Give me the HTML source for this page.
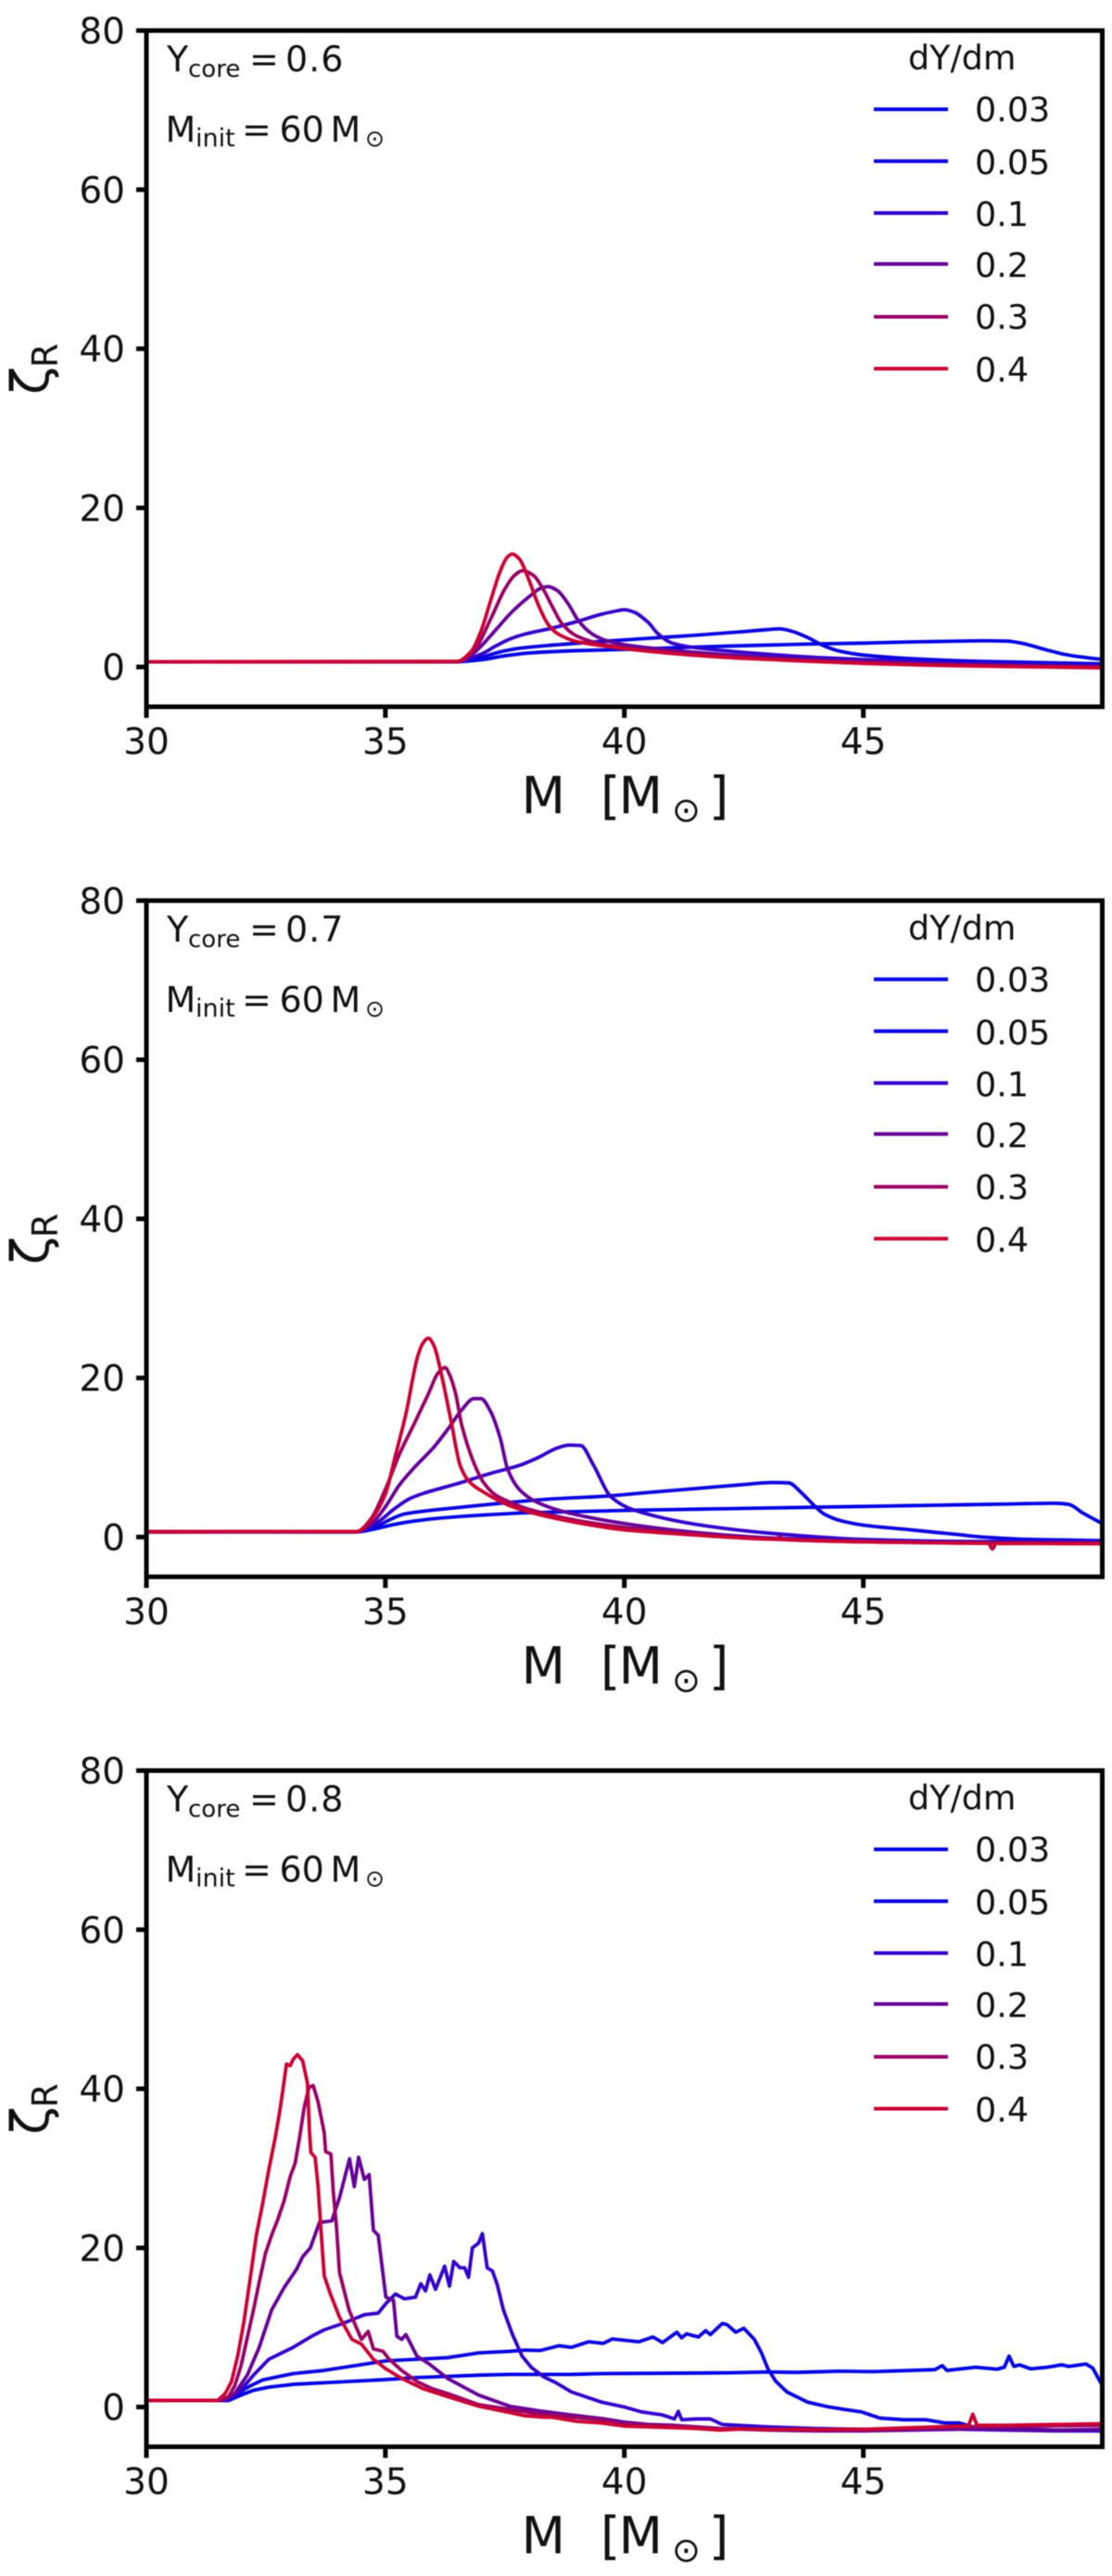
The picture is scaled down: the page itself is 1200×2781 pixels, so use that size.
<!DOCTYPE html>
<html lang="en">
<head>
<meta charset="utf-8">
<title>Zeta R versus mass for three core helium fractions</title>
<style>
html,body{margin:0;padding:0;background:#fff;width:1200px;height:2781px;overflow:hidden}
svg{display:block;filter:blur(0.4px)}
text{font-family:"DejaVu Sans","Liberation Sans",sans-serif;fill:#111}
.t36{font-size:36.5px}.t38{font-size:38px}.t26{font-size:26px}.t27{font-size:27px}.t25{font-size:25px}.t55{font-size:55px}
</style>
</head>
<body>
<svg id="figure" width="1200" height="2781" viewBox="0 0 1200 2781" xmlns="http://www.w3.org/2000/svg">

<g id="panel-0" transform="translate(0,0)">
  <text transform="translate(52,426) rotate(-90)" font-size="56">ζ</text>
  <text transform="translate(62,397) rotate(-90)" font-size="38">R</text>
  <g>
    <text class="t55" x="562.6" y="878">M</text><text class="t55" x="648" y="878">[</text><text class="t55" x="667.6" y="878">M</text><text font-size="37" x="725" y="887">⊙</text><text class="t55" x="765" y="878">]</text>
  </g>
  <g>
    <text class="t38" x="180" y="77">Y</text><text class="t26" x="203" y="83">core</text><text class="t38" x="269" y="77">=</text><text class="t38" x="308" y="77" letter-spacing="1">0.6</text>
  </g>
  <g>
    <text class="t38" x="178.5" y="153">M</text><text class="t27" x="211" y="158">init</text><text class="t38" x="261" y="153">=</text><text class="t38" x="301.5" y="153">60</text><text class="t38" x="356.5" y="153">M</text><text class="t25" x="394" y="158">⊙</text>
  </g>
  <g>
    <text class="t36" x="980" y="75">dY/dm</text>
    <g><line x1="943" x2="1023" y1="118" y2="118" stroke="#0000e6" stroke-width="4"/><text class="t36" x="1052" y="131">0.03</text></g>
    <g><line x1="943" x2="1023" y1="174" y2="174" stroke="#0a00e1" stroke-width="4"/><text class="t36" x="1052" y="188">0.05</text></g>
    <g><line x1="943" x2="1023" y1="230" y2="230" stroke="#3300cc" stroke-width="4"/><text class="t36" x="1052" y="244">0.1</text></g>
    <g><line x1="943" x2="1023" y1="285" y2="285" stroke="#660099" stroke-width="4"/><text class="t36" x="1052" y="299">0.2</text></g>
    <g><line x1="943" x2="1023" y1="342" y2="342" stroke="#990066" stroke-width="4"/><text class="t36" x="1052" y="355">0.3</text></g>
    <g><line x1="943" x2="1023" y1="398" y2="398" stroke="#cc0033" stroke-width="4"/><text class="t36" x="1052" y="412">0.4</text></g>
  </g>
</g>

<g id="panel-1" transform="translate(0,939.3)">
  <text transform="translate(52,426) rotate(-90)" font-size="56">ζ</text>
  <text transform="translate(62,397) rotate(-90)" font-size="38">R</text>
  <g>
    <text class="t55" x="562.6" y="878">M</text><text class="t55" x="648" y="878">[</text><text class="t55" x="667.6" y="878">M</text><text font-size="37" x="725" y="887">⊙</text><text class="t55" x="765" y="878">]</text>
  </g>
  <g>
    <text class="t38" x="180" y="77">Y</text><text class="t26" x="203" y="83">core</text><text class="t38" x="269" y="77">=</text><text class="t38" x="308" y="77" letter-spacing="1">0.7</text>
  </g>
  <g>
    <text class="t38" x="178.5" y="153">M</text><text class="t27" x="211" y="158">init</text><text class="t38" x="261" y="153">=</text><text class="t38" x="301.5" y="153">60</text><text class="t38" x="356.5" y="153">M</text><text class="t25" x="394" y="158">⊙</text>
  </g>
  <g>
    <text class="t36" x="980" y="75">dY/dm</text>
    <g><line x1="943" x2="1023" y1="118" y2="118" stroke="#0000e6" stroke-width="4"/><text class="t36" x="1052" y="131">0.03</text></g>
    <g><line x1="943" x2="1023" y1="174" y2="174" stroke="#0a00e1" stroke-width="4"/><text class="t36" x="1052" y="188">0.05</text></g>
    <g><line x1="943" x2="1023" y1="230" y2="230" stroke="#3300cc" stroke-width="4"/><text class="t36" x="1052" y="244">0.1</text></g>
    <g><line x1="943" x2="1023" y1="285" y2="285" stroke="#660099" stroke-width="4"/><text class="t36" x="1052" y="299">0.2</text></g>
    <g><line x1="943" x2="1023" y1="342" y2="342" stroke="#990066" stroke-width="4"/><text class="t36" x="1052" y="355">0.3</text></g>
    <g><line x1="943" x2="1023" y1="398" y2="398" stroke="#cc0033" stroke-width="4"/><text class="t36" x="1052" y="412">0.4</text></g>
  </g>
</g>

<g id="panel-2" transform="translate(0,1878.5)">
  <text transform="translate(52,426) rotate(-90)" font-size="56">ζ</text>
  <text transform="translate(62,397) rotate(-90)" font-size="38">R</text>
  <g>
    <text class="t55" x="562.6" y="878">M</text><text class="t55" x="648" y="878">[</text><text class="t55" x="667.6" y="878">M</text><text font-size="37" x="725" y="887">⊙</text><text class="t55" x="765" y="878">]</text>
  </g>
  <g>
    <text class="t38" x="180" y="77">Y</text><text class="t26" x="203" y="83">core</text><text class="t38" x="269" y="77">=</text><text class="t38" x="308" y="77" letter-spacing="1">0.8</text>
  </g>
  <g>
    <text class="t38" x="178.5" y="153">M</text><text class="t27" x="211" y="158">init</text><text class="t38" x="261" y="153">=</text><text class="t38" x="301.5" y="153">60</text><text class="t38" x="356.5" y="153">M</text><text class="t25" x="394" y="158">⊙</text>
  </g>
  <g>
    <text class="t36" x="980" y="75">dY/dm</text>
    <g><line x1="943" x2="1023" y1="118" y2="118" stroke="#0000e6" stroke-width="4"/><text class="t36" x="1052" y="131">0.03</text></g>
    <g><line x1="943" x2="1023" y1="174" y2="174" stroke="#0a00e1" stroke-width="4"/><text class="t36" x="1052" y="188">0.05</text></g>
    <g><line x1="943" x2="1023" y1="230" y2="230" stroke="#3300cc" stroke-width="4"/><text class="t36" x="1052" y="244">0.1</text></g>
    <g><line x1="943" x2="1023" y1="285" y2="285" stroke="#660099" stroke-width="4"/><text class="t36" x="1052" y="299">0.2</text></g>
    <g><line x1="943" x2="1023" y1="342" y2="342" stroke="#990066" stroke-width="4"/><text class="t36" x="1052" y="355">0.3</text></g>
    <g><line x1="943" x2="1023" y1="398" y2="398" stroke="#cc0033" stroke-width="4"/><text class="t36" x="1052" y="412">0.4</text></g>
  </g>
</g>
</svg>

<script>
const xTickValues = [30, 35, 40, 45];
const yTickValues = [0, 20, 40, 60, 80];
const seriesLabels = ['0.03', '0.05', '0.1', '0.2', '0.3', '0.4'];
const panelNoisy = [false, false, true];

/* Panel Ycore = 0.6 : [M, zeta] */
const a_003 = [[30,.66],[36.5,.66],[37,.9],[37.5,1.4],[38,1.75],[39,2.05],[40,2.2],[41,2.4],[42,2.6],[43,2.75],[44,2.9],[45,3.0],[46,3.15],[47,3.25],[47.5,3.3],[48,3.25],[48.3,3.0],[48.8,2.2],[49.2,1.6],[49.5,1.3],[50,.95]];
const a_005 = [[30,.66],[36.5,.66],[37,1.2],[37.4,1.9],[37.8,2.35],[38.5,2.75],[39.5,3.2],[40.5,3.6],[41.5,4.0],[42.5,4.45],[43,4.7],[43.25,4.8],[43.5,4.5],[43.8,3.8],[44.2,2.6],[44.5,2.0],[45,1.5],[46,1.05],[47.5,.7],[50,.4]];
const a_01 = [[30,.66],[36.5,.66],[37,1.6],[37.3,2.6],[37.6,3.5],[37.9,4.1],[38.5,4.9],[39,5.7],[39.5,6.6],[39.8,7.0],[40,7.2],[40.2,6.9],[40.5,5.6],[40.7,4.2],[41,3],[41.4,2.5],[42,2.1],[43,1.6],[44,1.2],[45.5,.8],[47,.5],[48.5,.3],[50,.15]];
const a_02 = [[30,.66],[36.5,.66],[36.8,1.5],[37,2.6],[37.3,4.6],[37.66,7],[38.04,9],[38.25,9.9],[38.4,10.1],[38.6,9.6],[38.84,7.8],[39.04,5.8],[39.34,4.1],[39.63,3.3],[40,2.8],[41,2.1],[42,1.6],[43,1.2],[45,.7],[47,.3],[50,.02]];
const a_03 = [[30,.66],[36.5,.68],[36.9,2.5],[37.2,6],[37.5,9.8],[37.7,11.5],[37.87,12.1],[38.1,11.5],[38.3,9.8],[38.5,7.5],[38.7,5.4],[39,3.9],[39.5,2.9],[40,2.4],[41,1.8],[42,1.35],[43,1.0],[45,.5],[47,.2],[50,-.05]];
const a_04 = [[30,.66],[36.5,.7],[36.8,2],[37,4.5],[37.2,8.3],[37.4,12],[37.55,13.8],[37.65,14.2],[37.8,13.6],[38,11],[38.2,7.8],[38.4,5.4],[38.6,4.2],[39,3.2],[39.5,2.7],[40,2.3],[41,1.7],[42,1.25],[43,.95],[45,.45],[47,.15],[50,-.1]];

/* Panel Ycore = 0.7 : [M, zeta] */
const b_003 = [[30,.66],[34.4,.66],[34.8,1.05],[35.2,1.6],[35.6,2.0],[36,2.3],[37,2.75],[38,3.05],[39,3.2],[40,3.35],[41,3.45],[42,3.55],[43,3.65],[44,3.75],[45,3.85],[46,3.95],[47,4.05],[48,4.15],[49,4.25],[49.3,4.1],[49.6,3],[50,1.7]];
const b_005 = [[30,.66],[34.4,.66],[34.8,1.3],[35.1,2.2],[35.4,2.9],[35.8,3.25],[36.5,3.7],[37.5,4.3],[38.5,4.8],[39.5,5.1],[40.5,5.6],[41.5,6.1],[42.5,6.6],[43.1,6.85],[43.44,6.8],[43.7,5.6],[44,3.8],[44.18,2.9],[44.5,2.1],[45,1.5],[46,.9],[47,.3],[47.5,0],[48.5,-.3],[50,-.45]];
const b_01 = [[30,.66],[34.4,.66],[34.8,1.7],[35.2,3.6],[35.5,4.8],[35.8,5.5],[36.5,6.7],[37.2,8],[37.8,9],[38.2,10],[38.6,11.2],[38.85,11.55],[39.09,11.5],[39.34,9.2],[39.73,5],[40.2,3.4],[41.6,1.5],[43.2,.4],[45,-.3],[47,-.55],[50,-.6]];
const b_02 = [[30,.66],[34.4,.66],[34.7,1.6],[35,3.8],[35.3,6.6],[35.6,8.7],[36,11.2],[36.3,13.5],[36.6,16],[36.85,17.4],[37,17.4],[37.2,15.8],[37.4,12.5],[37.56,8.5],[37.8,6],[38.1,4.6],[38.5,3.6],[39,2.8],[40,1.7],[41,.9],[42,.3],[43,-.1],[45,-.5],[47,-.7],[50,-.75]];
const b_03 = [[30,.66],[34.4,.7],[34.7,2.3],[35,6],[35.3,10.5],[35.6,14.2],[35.9,18],[36.1,20.6],[36.25,21.3],[36.35,20.3],[36.47,18],[36.6,14],[36.86,9.2],[37.05,6.9],[37.3,5.3],[37.6,4.4],[38,3.5],[39,2.1],[40,1.2],[41,.6],[42,.1],[43,-.25],[43.2,-.25],[43.25,.1],[43.3,-.3],[45,-.6],[47,-.75],[50,-.8]];
const b_04 = [[30,.66],[34.4,.7],[34.7,2.2],[35,5.4],[35.2,10],[35.43,15.5],[35.68,22.8],[35.8,24.5],[35.9,25],[36.02,24],[36.17,20.5],[36.37,14.7],[36.57,8.9],[36.75,7],[36.96,6],[37.66,3.8],[38.6,2.3],[40,.9],[41,.45],[42,.05],[43,-.25],[45,-.6],[47,-.75],[47.62,-.8],[47.7,-1.5],[47.78,-.8],[50,-.85]];

/* Panel Ycore = 0.8 : [M, zeta] */
const c_003 = [[30,.82],[31.72,.82],[31.98,1.5],[32.24,2.1],[32.56,2.5],[33.07,2.85],[33.72,3.05],[34.37,3.25],[35.01,3.45],[35.66,3.7],[36.3,3.85],[36.95,4],[37.6,4.1],[38.24,4.1],[38.89,4.1],[39.53,4.2],[41,4.25],[42.2,4.3],[43,4.4],[43.6,4.35],[44.5,4.5],[45.2,4.45],[46,4.6],[46.5,4.7],[46.65,5.2],[46.75,4.6],[47.35,5],[47.8,4.75],[47.95,5],[48.05,6.4],[48.15,5.1],[48.27,5.3],[48.5,4.8],[48.85,5],[49.15,5.3],[49.3,5.1],[49.66,5.4],[49.8,4.9],[50,2.7]];
const c_005 = [[30,.82],[31.69,.82],[31.91,1.7],[32.17,2.65],[32.43,3.4],[32.75,3.8],[33.07,4.2],[33.72,4.6],[34.37,5.2],[35.01,5.8],[35.66,6],[36.3,6.2],[36.95,6.8],[37.6,7],[37.92,7.15],[38.24,7.1],[38.63,7.7],[38.89,7.5],[39.25,8.2],[39.56,8],[39.75,8.55],[40.3,8.2],[40.6,8.8],[40.8,8.1],[41.1,9.4],[41.2,8.7],[41.3,9.2],[41.55,8.8],[41.7,9.6],[41.8,9.1],[42.05,10.5],[42.15,10.35],[42.33,9.4],[42.5,9.9],[42.72,8.5],[42.87,6.8],[43,4.85],[43.16,3.3],[43.4,1.9],[43.84,.6],[44.28,0],[44.6,-.3],[44.95,-.6],[45.35,-1.4],[45.85,-1.6],[46.3,-1.6],[46.7,-2],[47,-2],[47.35,-2.6],[48,-2.7],[49,-2.9],[50,-3]];
const c_01 = [[30,.82],[31.65,.82],[31.91,1.7],[32.24,4],[32.56,6],[33.07,7.5],[33.46,8.9],[33.72,9.7],[34.11,10.5],[34.56,11.6],[34.85,11.8],[35.01,13],[35.21,14.2],[35.4,13.6],[35.63,13.8],[35.74,15.5],[35.84,14.6],[35.93,16.6],[36.05,14.8],[36.24,17.7],[36.34,15.2],[36.43,18.3],[36.56,17.5],[36.66,17.5],[36.74,16.3],[36.82,20],[36.95,20.6],[37.03,21.8],[37.13,17.5],[37.24,17.1],[37.34,15.4],[37.47,12.2],[37.66,9.1],[37.86,6.4],[38.05,5],[38.31,3.8],[38.57,3.05],[38.89,1.9],[39.53,.6],[40,0],[40.35,-.6],[40.8,-1],[41.05,-1.5],[41.13,-.55],[41.2,-1.6],[41.5,-1.5],[41.8,-1.5],[42.05,-2.2],[43,-2.5],[44,-2.7],[45,-2.8],[46,-2.8],[47,-2.8],[48,-2.9],[49,-3],[50,-3]];
const c_02 = [[30,.82],[31.59,.82],[31.85,1.7],[32.11,4],[32.36,7.5],[32.62,12.2],[32.88,15],[33.14,17.3],[33.27,18.9],[33.43,20],[33.62,23.2],[33.88,23.4],[34.04,26.3],[34.25,31.2],[34.35,27.7],[34.44,31.4],[34.56,28.6],[34.66,29.2],[34.75,22.2],[34.85,21.6],[35.01,13.8],[35.17,13.4],[35.24,8.9],[35.34,8.5],[35.43,9.1],[35.66,6.4],[35.92,5.4],[36.3,3.6],[36.95,1.5],[37.6,.1],[38.24,-.5],[38.89,-1],[39.53,-1.45],[40,-1.9],[40.5,-2.2],[41,-2.3],[42,-2.7],[43,-2.9],[44,-3],[45,-3],[46,-2.9],[47,-2.8],[48,-2.8],[49,-2.9],[50,-2.8]];
const c_03 = [[30,.82],[31.52,.82],[31.72,1.3],[31.85,2.7],[31.98,5.2],[32.11,8.7],[32.24,12.2],[32.36,15.7],[32.49,19.3],[32.62,21.6],[32.75,23.6],[32.88,25.9],[33.01,29],[33.11,30.6],[33.2,33.7],[33.3,37.6],[33.4,40.2],[33.49,40.4],[33.59,38.4],[33.72,34.5],[33.75,32.1],[33.86,31.8],[33.91,27.1],[33.98,22.4],[34.04,16.9],[34.24,12.2],[34.37,10.3],[34.5,8.5],[34.64,9.5],[34.75,7.3],[34.95,7],[35.08,6],[35.34,4.6],[35.66,3.2],[35.98,2.3],[36.3,1.7],[36.95,.3],[37.6,-.3],[38.24,-.9],[38.89,-1.25],[39.53,-1.6],[40,-2.2],[40.5,-2.3],[41,-2.4],[42,-2.7],[43,-2.8],[44,-2.9],[45,-2.9],[46,-2.7],[47,-2.5],[48,-2.4],[50,-2.3]];
const c_04 = [[30,.82],[31.49,.82],[31.65,1.7],[31.78,3.2],[31.91,6.4],[32.04,10.7],[32.17,16.1],[32.3,21.6],[32.43,25.5],[32.56,29.8],[32.69,33.7],[32.78,36.8],[32.85,39.6],[32.93,43.1],[33.01,42.9],[33.07,43.7],[33.16,44.3],[33.27,43.5],[33.37,40.7],[33.41,34.9],[33.44,32],[33.53,31.4],[33.59,27.9],[33.66,21.6],[33.72,16.5],[33.85,14.2],[34.04,11.3],[34.3,8.5],[34.5,7.9],[34.75,6],[35.01,4.8],[35.34,3.6],[35.79,2.3],[36.31,1.3],[36.95,.1],[37.6,-.7],[37.92,-1.1],[38.24,-1.25],[38.5,-1.3],[39,-1.8],[39.5,-2],[40,-2.4],[40.5,-2.5],[41,-2.6],[41.5,-2.7],[42,-2.9],[42.5,-2.75],[43,-2.85],[43.5,-2.8],[44,-2.85],[44.5,-2.8],[45,-2.8],[45.5,-2.7],[46,-2.6],[46.5,-2.5],[47,-2.4],[47.2,-2.35],[47.29,-.9],[47.38,-2.3],[48,-2.3],[49,-2.2],[50,-2.1]];

const panelSeries = [
  [a_003, a_005, a_01, a_02, a_03, a_04],
  [b_003, b_005, b_01, b_02, b_03, b_04],
  [c_003, c_005, c_01, c_02, c_03, c_04]
];

const NS = 'http://www.w3.org/2000/svg';
const colors = ['#0000e6', '#0a00e1', '#3300cc', '#660099', '#990066', '#cc0033'];
const plotLeft = 158, plotRight = 1189.5, plotTop = 33, plotBottom = 763;
const xMin = 30, xMax = 50, yMin = -5, yMax = 80;

function sx(v) { return plotLeft + (v - xMin) / (xMax - xMin) * (plotRight - plotLeft); }
function sy(v) { return plotBottom - (v - yMin) / (yMax - yMin) * (plotBottom - plotTop); }

function smoothPath(pts) {
  const p = pts.map(function (d) { return [sx(d[0]), sy(d[1])]; });
  const n = p.length;
  const seg = [];
  for (let i = 0; i < n - 1; i++) {
    seg.push((p[i + 1][1] - p[i][1]) / (p[i + 1][0] - p[i][0]));
  }
  const slope = p.map(function (d, i) {
    if (i === 0) return seg[0];
    if (i === n - 1) return seg[n - 2];
    if (seg[i - 1] * seg[i] <= 0) return 0;
    const sign = seg[i] > 0 ? 1 : -1;
    const a = Math.abs(seg[i - 1]), b = Math.abs(seg[i]);
    return sign * 2 * a * b / (a + b);
  });
  let s = 'M' + p[0][0].toFixed(2) + ' ' + p[0][1].toFixed(2);
  for (let i = 0; i < n - 1; i++) {
    const dx = (p[i + 1][0] - p[i][0]) / 3;
    s += 'C' + (p[i][0] + dx).toFixed(2) + ' ' + (p[i][1] + slope[i] * dx).toFixed(2) + ' ' +
         (p[i + 1][0] - dx).toFixed(2) + ' ' + (p[i + 1][1] - slope[i + 1] * dx).toFixed(2) + ' ' +
         p[i + 1][0].toFixed(2) + ' ' + p[i + 1][1].toFixed(2);
  }
  return s;
}

function straightPath(pts) {
  return pts.map(function (d, i) {
    return (i ? 'L' : 'M') + sx(d[0]).toFixed(2) + ' ' + sy(d[1]).toFixed(2);
  }).join('');
}

function addLine(parent, x1, y1, x2, y2) {
  const el = document.createElementNS(NS, 'line');
  el.setAttribute('x1', x1);
  el.setAttribute('y1', y1);
  el.setAttribute('x2', x2);
  el.setAttribute('y2', y2);
  el.setAttribute('stroke', '#000');
  el.setAttribute('stroke-width', '5');
  parent.appendChild(el);
  return el;
}

panelSeries.forEach(function (seriesList, pi) {
  const panel = document.getElementById('panel-' + pi);

  const clip = document.createElementNS(NS, 'clipPath');
  clip.setAttribute('id', 'plot-clip-' + pi);
  const clipRect = document.createElementNS(NS, 'rect');
  clipRect.setAttribute('x', plotLeft);
  clipRect.setAttribute('y', plotTop);
  clipRect.setAttribute('width', plotRight - plotLeft);
  clipRect.setAttribute('height', plotBottom - plotTop);
  clip.appendChild(clipRect);
  panel.appendChild(clip);

  const curves = document.createElementNS(NS, 'g');
  curves.setAttribute('clip-path', 'url(#plot-clip-' + pi + ')');
  
  
  panel.appendChild(curves);

  seriesList.forEach(function (pts, si) {
    const path = document.createElementNS(NS, 'path');
    path.setAttribute('d', panelNoisy[pi] ? straightPath(pts) : smoothPath(pts));
    path.setAttribute('fill', 'none');
    path.setAttribute('stroke', colors[si]);
    path.setAttribute('stroke-width', '3.8');
    path.setAttribute('stroke-linejoin', 'round');
    
    
    curves.appendChild(path);
  });

  const frame = document.createElementNS(NS, 'rect');
  frame.setAttribute('x', plotLeft);
  frame.setAttribute('y', plotTop);
  frame.setAttribute('width', plotRight - plotLeft);
  frame.setAttribute('height', plotBottom - plotTop);
  frame.setAttribute('fill', 'none');
  frame.setAttribute('stroke', '#000');
  frame.setAttribute('stroke-width', '5');
  
  
  panel.appendChild(frame);

  xTickValues.forEach(function (v) {
    const tick = addLine(panel, sx(v), plotBottom, sx(v), plotBottom + 12);
    
    
    const label = document.createElementNS(NS, 'text');
    label.setAttribute('x', sx(v));
    label.setAttribute('y', plotBottom + 51);
    label.setAttribute('text-anchor', 'middle');
    label.setAttribute('font-size', '39');
    label.textContent = String(v);
    
    
    panel.appendChild(label);
  });

  yTickValues.forEach(function (v) {
    const tick = addLine(panel, plotLeft - 11, sy(v), plotLeft, sy(v));
    
    
    const label = document.createElementNS(NS, 'text');
    label.setAttribute('x', 135);
    label.setAttribute('y', sy(v) + 14);
    label.setAttribute('text-anchor', 'end');
    label.setAttribute('font-size', '39');
    label.textContent = String(v);
    
    
    panel.appendChild(label);
  });
});
</script>
</body>
</html>
